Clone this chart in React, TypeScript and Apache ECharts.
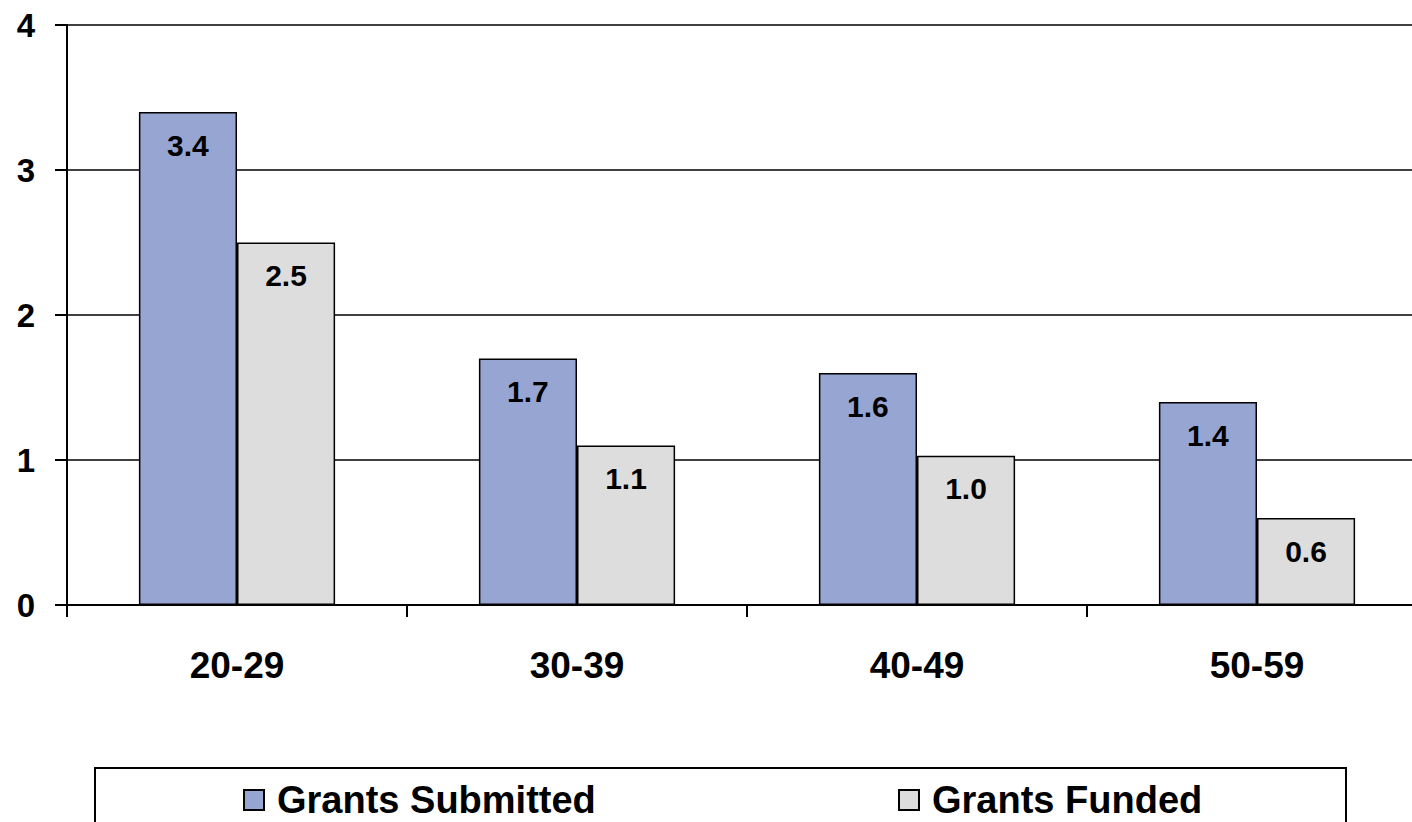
import React, { useEffect, useRef } from "react";
import * as echarts from "echarts";

const categories = ["20-29", "30-39", "40-49", "50-59"];
const submitted = [3.4, 1.7, 1.6, 1.4];
const funded = [2.5, 1.1, 1.03, 0.6];
const yTicks = [0, 1, 2, 3, 4];

const FONT = "Arial, 'Liberation Sans', sans-serif";

export default function App() {
  const ref = useRef<HTMLDivElement>(null);
  useEffect(() => {
    document.body.style.margin = "0";
    const chart = echarts.init(ref.current!, null, { renderer: "svg" });
    const label = {
      show: true,
      position: "insideTop",
      distance: 18,
      color: "#000",
      fontWeight: "bold",
      fontSize: 30,
      fontFamily: FONT,
      formatter: (p: any) => Number(p.value).toFixed(1),
    };
    const legendText = { color: "#000", fontWeight: "bold", fontSize: 38, fontFamily: FONT, padding: [0, 0, 0, 8] };
    chart.setOption({
      animation: false,
      backgroundColor: "#fff",
      grid: {
        left: 67,
        width: 1360,
        top: 25,
        bottom: 217,
        containLabel: false,
        outerBoundsMode: "none",
      },
      xAxis: {
        type: "category",
        data: categories,
        axisLine: { lineStyle: { color: "#000", width: 2 } },
        axisTick: { show: true, length: 12, lineStyle: { color: "#000", width: 2 } },
        axisLabel: { color: "#000", fontWeight: "bold", fontSize: 37, fontFamily: FONT, margin: 42 },
      },
      yAxis: {
        type: "value",
        min: yTicks[0],
        max: yTicks[yTicks.length - 1],
        interval: 1,
        axisLine: { show: true, lineStyle: { color: "#000", width: 2 } },
        axisTick: { show: true, length: 12, lineStyle: { color: "#000", width: 2 } },
        splitLine: { show: true, lineStyle: { color: "#000", width: 1.5 } },
        axisLabel: { color: "#000", fontWeight: "bold", fontSize: 33, fontFamily: FONT, margin: 32 },
      },
      legend: [
        {
          data: ["Grants Submitted"],
          left: 238,
          top: 776,
          icon: "rect",
          itemWidth: 20,
          itemHeight: 20,
          textStyle: legendText,
        },
        {
          data: ["Grants Funded"],
          left: 893,
          top: 776,
          icon: "rect",
          itemWidth: 20,
          itemHeight: 20,
          textStyle: legendText,
        },
      ],
      graphic: [
        {
          type: "rect",
          shape: { x: 95, y: 768, width: 1251, height: 80 },
          style: { fill: "none", stroke: "#000", lineWidth: 2 },
          z: 0,
        },
      ],
      series: [
        {
          name: "Grants Submitted",
          type: "bar",
          data: submitted,
          barGap: "0%",
          barCategoryGap: "42.3%",
          itemStyle: { color: "#97A5D2", borderColor: "#000", borderWidth: 1.5 },
          label,
        },
        {
          name: "Grants Funded",
          type: "bar",
          data: funded,
          barGap: "0%",
          barCategoryGap: "42.3%",
          itemStyle: { color: "#DDDDDD", borderColor: "#000", borderWidth: 1.5 },
          label,
        },
      ],
    });
    return () => chart.dispose();
  }, []);
  return <div ref={ref} style={{ width: 1412, height: 822 }} />;
}
